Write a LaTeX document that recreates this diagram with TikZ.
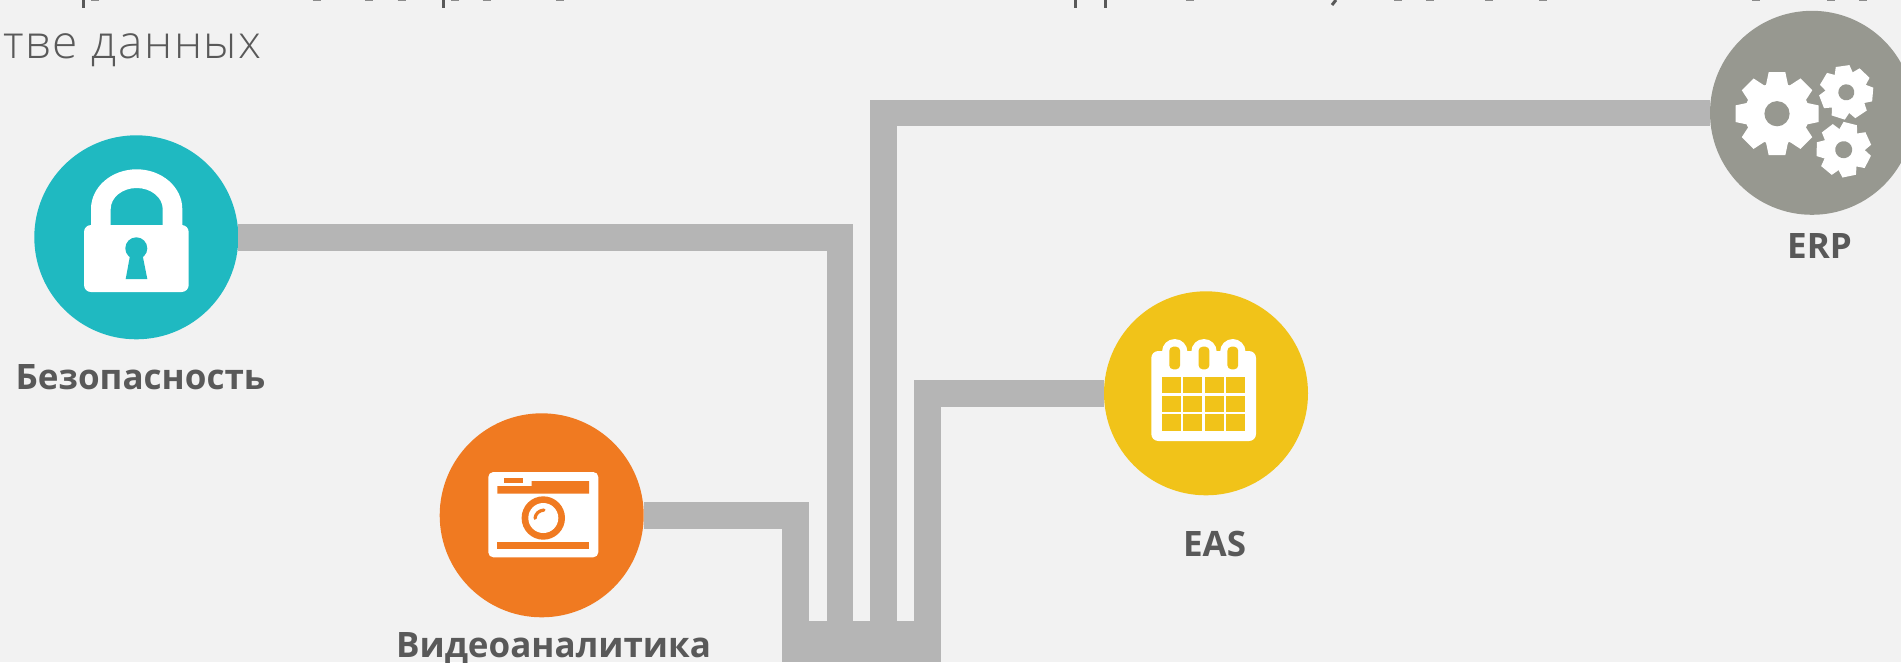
\documentclass[tikz,border=0pt]{standalone}
\usepackage{fontspec}
\setmainfont{Open Sans}
\newfontfamily\lightfont[LetterSpace=3.5]{Open Sans Light}
\definecolor{bg}{HTML}{F2F2F2}
\definecolor{bar}{HTML}{B5B5B5}
\definecolor{teal}{HTML}{1FB9C1}
\definecolor{orng}{HTML}{F07A21}
\definecolor{yell}{HTML}{F1C319}
\definecolor{stone}{HTML}{979890}
\definecolor{ink}{HTML}{595959}
\tikzset{
  hub/.style={circle,minimum size=204pt,inner sep=0pt,outer sep=0pt},
  link/.style={draw=bar,line width=26.5pt,miter limit=10},
  lab/.style={text=ink,font=\fontsize{35}{40}\selectfont\bfseries,inner sep=0pt,anchor=base},
  head/.style={text=ink,font=\lightfont\fontsize{46}{52}\selectfont,inner sep=0pt,anchor=base west},
  cut/.style={draw=ink,line width=3pt},
}
\newcommand{\gearshape}[9]{% cx cy rx ry rot hole teeth halfroot halftip
  \begin{scope}[shift={(#1,#2)},rotate=#5]
    \fill[white] (0,0) ellipse ({#3*.74} and {#4*.74});
    \foreach \i in {1,...,#7}{
      \fill[white,rotate=\i*360/#7] (-#8*#3,-.65*#4) -- (-#9*#3,-#4) -- (#9*#3,-#4) -- (#8*#3,-.65*#4) -- cycle;
    }
    \fill[stone] (0,0) circle (#6);
  \end{scope}}
\begin{document}
\begin{tikzpicture}[x=1pt,y=-1pt]
\useasboundingbox (0,0) rectangle (1901,662);
\clip (0,0) rectangle (1901,662);
\fill[bg] (0,0) rectangle (1901,662);
% remains of the cut-off first line of text
\foreach \x in {83,443,1075,1105.7}{\draw[cut] (\x,0) -- (\x,8);}
\draw[cut] (1336,0) -- (1332,5);
\foreach \x in {95,316.7,369,401.7,455,486.7,560,1190,1398,1430,1489,1543,1756,1831,1863}{
  \draw[cut,draw=ink!70,line width=1pt] (\x-4,.3) -- (\x+4,.3);}
% top text
\node[head] (head1) at (3,58) {тве данных};
% hubs
\node[hub,fill=teal] (sec) at (136.3,237.3) {};
\node[hub,fill=orng] (cam) at (541.7,515.3) {};
\node[hub,fill=yell] (eas) at (1206,393.3) {};
\node[hub,fill=stone] (erp) at (1812,112.8) {};
% bus
\node[fill=bar,inner sep=0pt,outer sep=0pt,minimum width=158.4pt,minimum height=41pt,anchor=north west] (bus) at (782.3,621) {};
\coordinate (p1) at (795.7,621.5);
\coordinate (p2) at (840,621.5);
\coordinate (p3) at (883.7,621.5);
\coordinate (p4) at (927.7,621.5);
\draw[link] (sec.east) -- (p2 |- sec.east) -- (p2);
\draw[link] (cam.east) -- (p1 |- cam.east) -- (p1);
\draw[link] (erp.west) -- (p3 |- erp.west) -- (p3);
\draw[link] (eas.west) -- (p4 |- eas.west) -- (p4);
% labels
\node[lab] (l1) at (140.5,389) {Безопасность};
\node[lab] (l2) at (553.5,657) {Видеоаналитика};
\node[lab] (l3) at (1214.5,556.5) {EAS};
\node[lab] (l4) at (1819.5,258.5) {ERP};
% lock
\fill[white,even odd rule] (91,230) -- (91,209) arc[x radius=45.65,y radius=39.7,start angle=180,end angle=360] -- (182.3,230) -- cycle
  (110.7,225) -- (110.7,209) arc[x radius=26,y radius=21,start angle=180,end angle=360] -- (162.7,225) -- cycle;
\fill[white,rounded corners=7pt] (84,225) rectangle (188.7,292);
\fill[teal] (136.3,248.3) circle (11);
\fill[teal] (130.5,253) -- (125.7,279) -- (147.3,279) -- (142.1,253) -- cycle;
% camera
\fill[white,rounded corners=5pt] (488.3,472) rectangle (598.3,557.3);
\fill[orng] (504,477.7) rectangle (523,482.7);
\fill[orng] (497.3,486) -- (531.7,486) -- (531.7,481) -- (589,481) -- (589,493.7) -- (497.3,493.7) -- cycle;
\fill[orng] (497.3,542.3) rectangle (589,548.7);
\fill[orng] (543.3,518) circle (21.7);
\fill[white] (543.3,518) circle (15);
\draw[orng,line width=3.2pt,line cap=round] (535,518.3) .. controls (535.5,513.5) and (539,510.5) .. (544,510);
% calendar
\fill[white,rounded corners=7pt] (1151.3,351) rectangle (1256,441);
\foreach \x in {1174.7,1204,1232.8}{
  \fill[white] (\x-12.7,355) -- (\x-12.7,351.7) arc[radius=12.7,start angle=180,end angle=360] -- (\x+12.7,355) -- cycle;
  \fill[yell,rounded corners=4pt] (\x-5.4,346.7) rectangle (\x+5.4,369.3);
}
\foreach \xa/\xb in {1162/1180.7,1183.3/1202.3,1205.3/1223.7,1226.3/1245.3}{
  \foreach \ya/\yb in {377/393.3,395.7/412,414.3/430.7}{
    \fill[yell] (\xa,\ya) rectangle (\xb,\yb);
  }
}
% gears
\gearshape{1777}{113.7}{43.8}{41.5}{0}{12.6}{8}{.26}{.19}
\gearshape{1846.3}{92.3}{26.5}{26.5}{8}{8}{7}{.36}{.26}
\gearshape{1843.7}{149.7}{26.5}{27}{-14}{8.5}{7}{.36}{.26}
\end{tikzpicture}
\end{document}
